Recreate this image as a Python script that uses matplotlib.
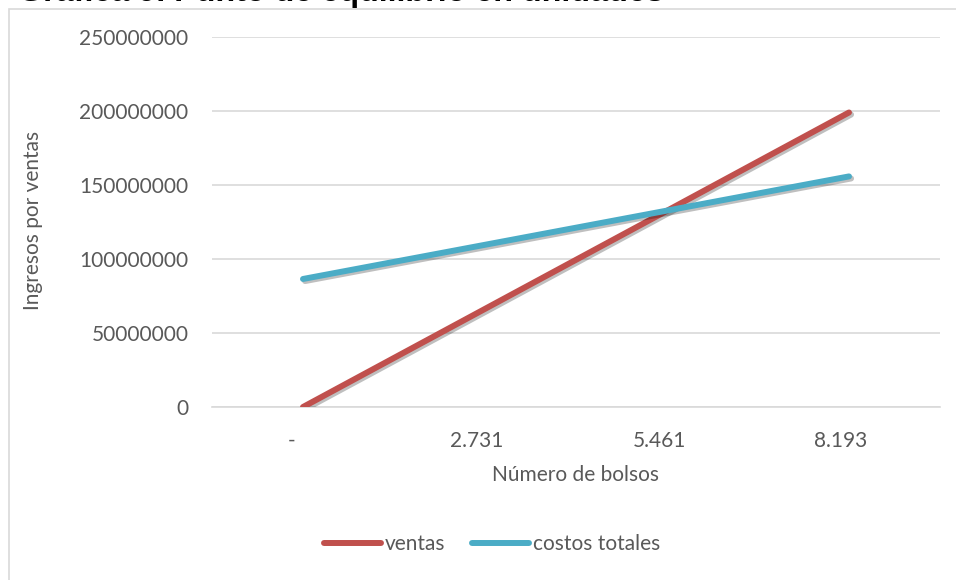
import matplotlib
matplotlib.use("Agg")
import matplotlib.pyplot as plt
import matplotlib.patheffects as pe
import matplotlib.transforms as mtrans
from matplotlib.patches import Rectangle

categories = ["-", "2.731", "5.461", "8.193"]
ventas = [0, 66.3e6, 132.6e6, 199.0e6]
costos_totales = [86.5e6, 109.6e6, 132.7e6, 155.8e6]
yticks = [0, 50000000, 100000000, 150000000, 200000000, 250000000]

title = "Gráfica 9. Punto de equilibrio en unidades"
xlabel = "Número de bolsos"
ylabel = "Ingresos por ventas"

W, H = 956, 580
fig = plt.figure(figsize=(W / 100, H / 100), dpi=100)
plt.rcParams['font.family'] = ['Lato', 'DejaVu Sans']

txt = '#595959'
grid = '#D9D9D9'

# outer chart border (extends beyond right/bottom edges)
fig.patches.append(Rectangle((8.5 / W, -0.05), 1.2, 1 - 8.5 / H + 0.05,
                             transform=fig.transFigure, fill=False,
                             edgecolor=grid, lw=1.2))

# title (cut off at the top in the reference)
fig.text(18 / W, 1 - 0.5 / H, title, fontsize=23.2, fontweight='bold',
         color='black', va='baseline', ha='left', family=['Liberation Sans'])

ax = fig.add_axes([212 / W, 1 - 407 / H, (940 - 212) / W, (407 - 37) / H])
x = list(range(len(categories)))

shadow = [pe.SimpleLineShadow(offset=(1.5, -1.5), alpha=0.25, rho=0.3), pe.Normal()]
ax.plot(x, ventas, color='#C0504D', lw=4.3, solid_capstyle='round',
        label='ventas', path_effects=shadow, zorder=3)
ax.plot(x, costos_totales, color='#4BACC6', lw=4.3, solid_capstyle='round',
        label='costos totales', path_effects=shadow, zorder=3)

ax.set_xlim(-0.5, len(categories) - 0.5)
ax.set_ylim(0, 250000000)
ax.set_yticks(yticks)
ax.set_yticklabels([str(v) for v in yticks])
ax.set_xticks(x)
ax.set_xticklabels(categories)
ax.grid(axis='y', color=grid, lw=1.2)
ax.set_axisbelow(True)
for s in ['top', 'right', 'left']:
    ax.spines[s].set_visible(False)
ax.spines['bottom'].set_color(grid)
ax.spines['bottom'].set_linewidth(1.2)
ax.tick_params(axis='both', length=0, labelsize=15, colors=txt)
ax.tick_params(axis='y', pad=17)
ax.tick_params(axis='x', pad=17)

# category labels sit slightly left of their data points (accounting format padding)
for lab in ax.get_xticklabels():
    shift = -11 if lab.get_text().strip() == "-" else -8
    lab.set_transform(lab.get_transform() +
                      mtrans.ScaledTranslation(shift / 100, 0, fig.dpi_scale_trans))

fig.text(575 / W, 1 - 475 / H, xlabel, fontsize=15, color=txt,
         ha='center', va='center')
fig.text(33 / W, 1 - 220 / H, ylabel, fontsize=15, color=txt,
         ha='center', va='center', rotation=90)

leg = fig.legend(loc='center', bbox_to_anchor=(492 / W, 1 - 544 / H),
                 ncol=2, frameon=False, fontsize=15, handlelength=2.75,
                 handletextpad=0.15, columnspacing=1.3, labelcolor=txt,
                 borderpad=0, borderaxespad=0)
for h in leg.legend_handles:
    h.set_linewidth(4.3)
    h.set_path_effects([])

fig.savefig('out.png', dpi=100)
